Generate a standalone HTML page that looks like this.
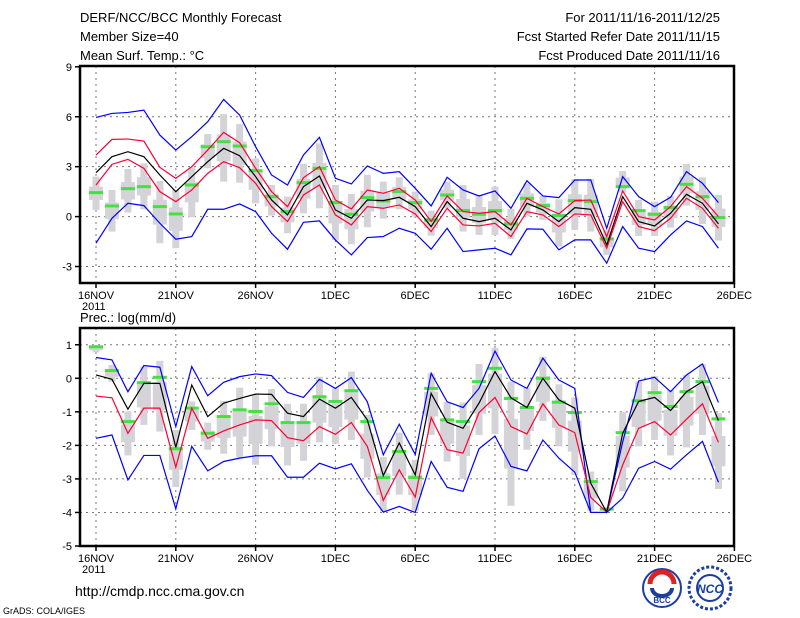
<!DOCTYPE html>
<html><head><meta charset="utf-8"><style>
body{margin:0;background:#fff;width:800px;height:618px;overflow:hidden}
svg{display:block}
text{font-family:"Liberation Sans",sans-serif}
</style></head><body>
<svg id="c" width="800" height="618" viewBox="0 0 800 618">
<g font-size="13" fill="#000">
<text x="80" y="22">DERF/NCC/BCC Monthly Forecast</text>
<text x="80" y="41">Member Size=40</text>
<text x="80" y="60">Mean Surf. Temp.: °C</text>
<text x="720" y="22" text-anchor="end">For 2011/11/16-2011/12/25</text>
<text x="720" y="41" text-anchor="end">Fcst Started Refer Date 2011/11/15</text>
<text x="720" y="60" text-anchor="end">Fcst Produced Date 2011/11/16</text>
<text x="80" y="322">Prec.: log(mm/d)</text>
<text x="75" y="596" font-size="14">http://cmdp.ncc.cma.gov.cn</text>
<text x="3" y="614" font-size="9">GrADS: COLA/IGES</text>
</g>
<g>
<circle cx="662" cy="588" r="19" fill="#fff" stroke="#1a3fa0" stroke-width="2"/>
<path d="M650 584 a12 12 0 0 1 24 0" fill="none" stroke="#d22" stroke-width="5"/>
<path d="M652 588 a10 8 0 0 0 20 0" fill="none" stroke="#1a3fa0" stroke-width="4"/>
<text x="662" y="603" font-size="8" text-anchor="middle" fill="#1a3fa0" font-weight="bold">BCC</text>
</g>
<g>
<circle cx="710" cy="588" r="21" fill="#fff" stroke="#1a3fa0" stroke-width="3" stroke-dasharray="3 2"/>
<circle cx="710" cy="588" r="13" fill="none" stroke="#1a3fa0" stroke-width="2"/>
<text x="710" y="593" font-size="12" text-anchor="middle" fill="#1a3fa0" font-style="italic" font-weight="bold">NCC</text>
</g>
</svg>
<script>
// ---- Temperature panel data ----
const days = Array.from({length:40},(_,i)=>i);
const xTickLabels = ["16NOV","21NOV","26NOV","1DEC","6DEC","11DEC","16DEC","21DEC","26DEC"];
const tTicks = [9,6,3,0,-3];
const tBlueHi = [5.96,6.2,6.26,6.4,4.9,4.0,4.8,5.7,7.04,6.1,4.2,2.5,1.9,3.7,4.76,2.3,1.96,3.04,2.6,2.7,1.7,0.64,2.36,1.6,1.24,1.54,0.5,2.16,1.24,1.14,2.2,2.2,-0.7,2.4,1.2,0.6,1.16,2.7,2.0,0.84];
const tBlueLo = [-1.6,-0.1,0.8,0.66,-0.4,-1.36,-1.2,0.44,0.44,0.76,0.3,-1.0,-1.96,-0.34,-0.26,-1.4,-2.3,-1.26,-1.2,-0.7,-1.0,-1.96,-0.7,-2.1,-2.0,-1.9,-2.3,-0.74,-0.76,-2.0,-1.4,-1.4,-2.8,-0.6,-1.9,-2.1,-1.1,-0.26,-0.6,-1.9];
const tMean = [2.64,3.6,3.9,3.6,2.5,1.5,2.4,3.3,4.1,3.66,2.4,1.0,0.1,1.8,2.44,0.4,-0.1,1.0,0.96,1.16,0.6,-0.6,0.9,-0.1,-0.3,-0.1,-0.8,0.8,0.4,-0.3,0.54,0.44,-1.7,1.2,-0.3,-0.56,0.2,1.34,0.8,-0.44];
const tRedHi = [3.7,4.64,4.66,4.54,2.96,2.3,3.0,4.0,5.06,4.44,2.9,1.5,0.6,2.34,3.0,1.0,0.46,1.6,1.4,1.7,1.0,-0.3,1.24,0.3,0.2,0.3,-0.5,1.1,0.6,0.16,0.96,1.0,-1.2,1.54,0,-0.2,0.6,1.8,1.1,0];
const tRedLo = [1.9,3.14,3.44,2.9,1.5,0.9,1.6,2.6,3.3,2.94,2.0,0.6,-0.3,1.3,1.9,0.1,-0.5,0.6,0.5,0.7,0.16,-0.9,0.5,-0.5,-0.56,-0.4,-1.2,0.3,0.1,-0.6,0.16,0.1,-1.9,0.9,-0.6,-0.84,-0.1,1.1,0.5,-0.7];
const tGreen = [1.44,0.64,1.68,1.8,0.6,0.16,1.9,4.2,4.5,4.24,2.76,1.2,0.3,2.04,2.9,0.84,0.14,1.14,0.94,1.5,0.84,-0.2,1.3,0.36,0.14,0.36,-0.44,1.1,0.66,0.06,0.96,0.9,-1.34,1.8,0.36,0.14,0.54,1.94,1.2,-0.06];
const tBarHi = [2.4,1.6,2.86,3.2,2.14,1.6,2.96,4.96,6.16,5.56,3.5,1.9,1.2,3.16,4.4,1.9,1.36,2.5,2.1,2.36,1.5,0.36,2.1,1.9,1.3,1.8,0.46,2.0,1.24,1.04,2.26,2.26,-0.8,2.74,1.0,0.9,1.24,3.16,2.36,1.3];
const tBarLo = [0.4,-0.9,0.24,0.44,-1.6,-1.9,-0.04,2.9,2.1,2.04,0.8,0.06,-1.0,0.2,0.5,-1.4,-1.66,-0.64,-0.12,0.44,0,-1.14,0.5,-0.9,-1.1,-1.1,-1.34,0,-0.2,-1.8,-0.8,-0.9,-2.3,1.44,-1.16,-1.16,-0.66,0.66,-0.44,-1.44];
// ---- Precipitation panel data ----
const pTicks = [1,0,-1,-2,-3,-4,-5];
const pBlueHi = [0.62,0.55,-0.4,0.38,0.33,-1.44,0.35,-0.52,-0.12,0.05,0.13,0.08,-0.42,-0.57,-0.03,-0.3,0.02,-0.7,-2.28,-1.37,-2.27,0.15,-0.7,-0.87,-0.3,0.81,-0.05,-0.3,0.6,-0.05,-0.3,-4.0,-4.0,-1.9,-0.08,0.03,-0.4,0.1,0.43,-0.72];
const pBlueLo = [-1.79,-1.69,-3.03,-2.3,-2.3,-3.89,-2.03,-2.76,-2.48,-2.38,-2.31,-2.31,-2.95,-2.95,-2.53,-2.7,-2.55,-3.34,-3.99,-3.82,-4.0,-2.48,-3.25,-3.37,-2.1,-1.72,-2.63,-2.76,-1.84,-2.38,-2.8,-4.0,-4.0,-3.57,-2.68,-2.48,-2.71,-2.28,-1.88,-3.1];
const pMean = [0.1,-0.03,-0.92,-0.15,-0.15,-2.06,-0.2,-1.14,-0.74,-0.6,-0.47,-0.48,-1.04,-1.14,-0.62,-0.89,-0.57,-1.24,-2.9,-1.93,-2.88,-0.45,-1.31,-1.49,-0.74,0.2,-0.58,-0.87,0.0,-0.64,-0.89,-3.13,-3.99,-1.64,-0.69,-0.57,-0.96,-0.4,-0.1,-1.26];
const pRed = [-0.53,-0.58,-1.64,-0.89,-0.89,-2.65,-0.89,-1.79,-1.57,-1.39,-1.24,-1.26,-1.77,-1.86,-1.44,-1.67,-1.32,-2.03,-3.64,-2.73,-3.54,-1.17,-2.13,-2.23,-1.02,-0.57,-1.44,-1.66,-0.76,-1.39,-1.62,-3.55,-3.99,-2.58,-1.49,-1.29,-1.69,-1.22,-0.76,-1.91];
const pGreen = [0.94,0.23,-1.29,-0.13,0.03,-2.1,-0.89,-1.64,-1.14,-0.94,-0.99,-0.76,-1.32,-1.32,-0.55,-0.69,-0.37,-1.29,-2.96,-2.18,-2.96,-0.3,-1.24,-1.29,-0.1,0.3,-0.6,-0.87,0.0,-0.71,-1.02,-3.08,-3.9,-1.62,-0.67,-0.43,-0.84,-0.4,-0.1,-1.21];
const pBarHi = [0.99,0.4,-0.99,0.35,0.52,-1.54,-0.69,-1.32,-0.67,-0.28,-0.5,-0.32,-0.76,-0.76,0.05,-0.3,0.2,-1.09,-2.35,-1.62,-2.43,0.15,-0.71,-0.72,0.43,0.91,-0.1,-0.28,0.64,-0.18,-0.57,-2.78,-3.87,-1.01,-0.1,0.07,-0.35,0.1,0.42,-1.04];
const pBarLo = [0.77,-0.1,-2.3,-1.39,-1.59,-3.24,-1.54,-2.13,-2.25,-2.36,-2.58,-2.03,-2.6,-2.46,-1.91,-1.95,-1.84,-2.96,-3.97,-3.47,-3.94,-1.69,-2.48,-3.0,-1.69,-1.66,-3.8,-2.13,-1.27,-2.03,-2.88,-3.94,-3.97,-3.37,-2.03,-1.84,-2.3,-2.06,-1.69,-3.3];

const NS='http://www.w3.org/2000/svg';
const svg=document.getElementById('c');
function mk(tag,attrs,parent){const e=document.createElementNS(NS,tag);for(const k in attrs)e.setAttribute(k,attrs[k]);(parent||svg).appendChild(e);return e;}
const X0=80,X1=734;
const xScale=d=>96+15.96*d;

function panel(name,top,bot,vmin,vmax,ticks,bars,lines,green){
  const g=mk('g',{});
  
  
  const y=v=>bot-(v-vmin)/(vmax-vmin)*(bot-top);
  // grid
  for(let i=0;i<=8;i++){const x=xScale(i*5);
    const l=mk('line',{x1:x,x2:x,y1:top,y2:bot,stroke:'#777','stroke-dasharray':'2 4','stroke-width':1},g);
    }
  ticks.forEach(t=>{const yy=y(t);
    if(yy>top+2&&yy<bot-2){const l=mk('line',{x1:X0,x2:X1,y1:yy,y2:yy,stroke:'#777','stroke-dasharray':'2 4','stroke-width':1},g);
      }
    mk('line',{x1:X0-5,x2:X0,y1:yy,y2:yy,stroke:'#000','stroke-width':1.5},g);
    const tx=mk('text',{x:X0-8,y:yy+4,'font-size':11,'text-anchor':'end'},g);tx.textContent=t;
    });
  // bars
  days.forEach(d=>{const x=xScale(d);const hi=y(bars[0][d]),lo=y(bars[1][d]);
    const r=mk('rect',{x:x-3.5,y:hi,width:7,height:Math.max(1,lo-hi),fill:'#d4d4d8'},g);
    
    const h=lo-hi;const b=mk('rect',{x:x-7,y:hi+h*0.3,width:14,height:h*0.4,fill:'#d4d4d8'},g);
    });
  // green
  days.forEach(d=>{const x=xScale(d);
    const r=mk('rect',{x:x-7,y:y(green[d])-1.5,width:14,height:3,fill:'#44e044'},g);
    });
  // lines
  lines.forEach(([arr,col,nm])=>{const p=mk('polyline',{points:arr.map((v,d)=>xScale(d)+','+y(v)).join(' '),fill:'none',stroke:col,'stroke-width':1.2},g);
    });
  // frame
  const f=mk('rect',{x:X0,y:top,width:X1-X0,height:bot-top,fill:'none',stroke:'#000','stroke-width':2.5},g);
  
  xTickLabels.forEach((lb,i)=>{const x=xScale(i*5);
    mk('line',{x1:x,x2:x,y1:bot,y2:bot+5,stroke:'#000','stroke-width':1.5},g);
    const t=mk('text',{x:x,y:bot+16,'font-size':11,'text-anchor':'middle'},g);t.textContent=lb;
    });
  const yr=mk('text',{x:82,y:bot+27,'font-size':11},g);yr.textContent='2011';
  
}
panel('temperature-panel',66,283,-3.99,9.05,tTicks,[tBarHi,tBarLo],
  [[tBlueHi,'#0000ff','max-line'],[tBlueLo,'#0000ff','min-line'],[tRedHi,'#ff0033','upper-std-line'],[tRedLo,'#ff0033','lower-std-line'],[tMean,'#000','mean-line']],tGreen);
panel('precipitation-panel',328,546,-5,1.5,pTicks,[pBarHi,pBarLo],
  [[pBlueHi,'#0000ff','max-line'],[pBlueLo,'#0000ff','min-line'],[pRed,'#ff0033','lower-std-line'],[pMean,'#000','mean-line']],pGreen);
</script>
</body></html>
